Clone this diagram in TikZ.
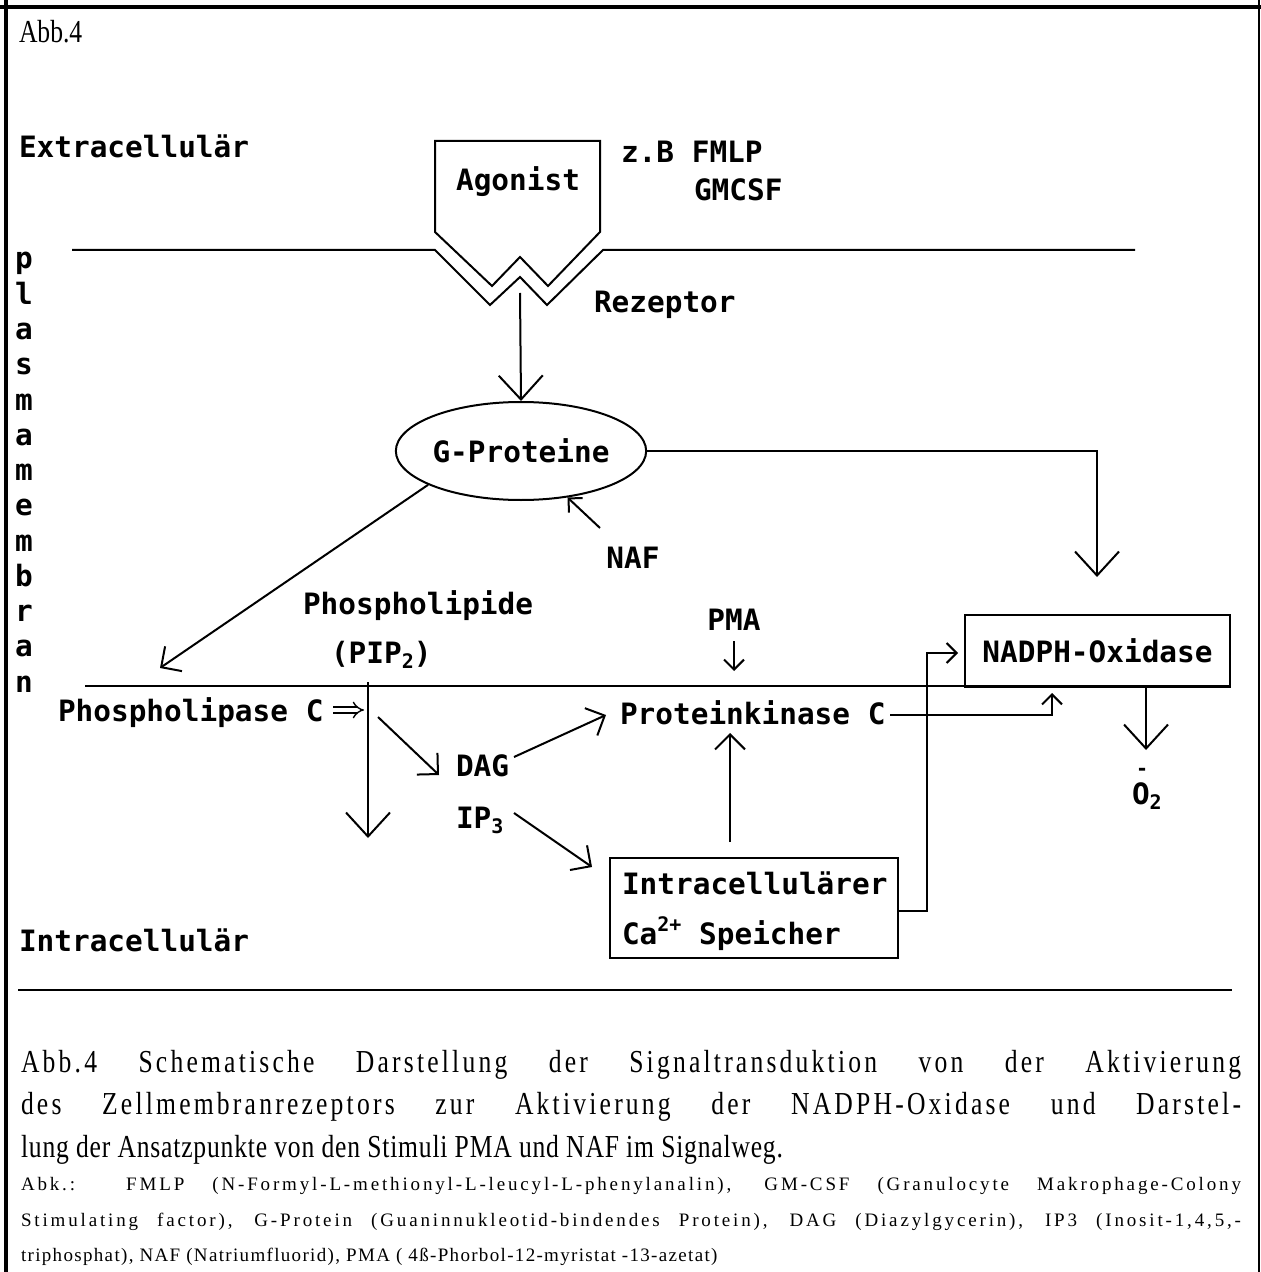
\documentclass[tikz,border=0pt]{standalone}
\usepackage{fontspec}
\setmainfont{Liberation Serif}
\newfontfamily\dfont{DejaVu Sans Mono}
\newfontfamily\capfont[FakeStretch=0.8,LetterSpace=2.5]{Liberation Serif}
\newfontfamily\capfontj[FakeStretch=0.8,LetterSpace=10]{Liberation Serif}
\newfontfamily\abbfont[FakeStretch=0.8]{Liberation Serif}
\newfontfamily\abkfont[LetterSpace=7]{Liberation Serif}
\newfontfamily\abkfontj[LetterSpace=15]{Liberation Serif}
\usetikzlibrary{arrows.meta,shapes.geometric}
\newcommand{\dsub}[1]{\raisebox{-0.35ex}{\fontsize{10}{10}\selectfont #1}}
\newcommand{\dsup}[1]{\raisebox{0.75ex}{\fontsize{10}{10}\selectfont #1}}
\begin{document}
\begin{tikzpicture}[x=0.5pt,y=-0.5pt,line width=1pt,
  lbl/.style={font=\dfont\bfseries\fontsize{14.7}{17}\selectfont,inner sep=0pt,anchor=base west},
  clbl/.style={font=\dfont\bfseries\fontsize{14.7}{17}\selectfont,inner sep=0pt,anchor=base},
  bigtip/.style={-{Straight Barb[length=12pt,width=22pt]}},
  midtip/.style={-{Straight Barb[length=7.5pt,width=15pt]}},
  smalltip/.style={-{Straight Barb[length=5pt,width=10pt]}},
  capline/.style={font=\capfont\fontsize{16}{18}\selectfont,inner sep=0pt,anchor=base west},
  caplinej/.style={font=\capfontj\fontsize{16}{18}\selectfont,inner sep=0pt,anchor=base west},
  abkline/.style={font=\abkfont\fontsize{9.5}{12}\selectfont,inner sep=0pt,anchor=base west},
  abklinej/.style={font=\abkfontj\fontsize{9.5}{12}\selectfont,inner sep=0pt,anchor=base west},
  boxed/.style={draw,inner sep=0pt}]
\useasboundingbox (0,0) rectangle (1261,1272);
% frame
\draw[line width=1.75pt] (0,7) -- (1261,7);
\draw[line width=1.75pt] (6,0) -- (6,1272);
\draw[line width=1pt] (1259,0) -- (1259,1272);
\node[font=\abbfont\fontsize{16}{18}\selectfont,inner sep=0pt,anchor=base west] (abb) at (18,43) {Abb.4};
% region labels
\node[lbl] (extra) at (18,158) {Extracellulär};
\node[lbl] (intra) at (18,951) {Intracellulär};
\foreach \c [count=\i from 0] in {p,l,a,s,m,a,m,e,m,b,r,a,n}
  \node[clbl] (pm\i) at (24,269+35.25*\i) {\c};
% membranes
\draw (72,250) -- (435,250) -- (490,305) -- (520,277) -- (547,305) -- (603,250) -- (1135,250);
\draw (85,686) -- (1229,686);
% agonist
\draw (435,232) -- (435,141) -- (600,141) -- (600,232) -- (548,286) -- (520,257) -- (492,286) -- cycle;
\node[clbl] (agon) at (518,191) {Agonist};
\node[lbl] (zb) at (620,163) {z.B FMLP};
\node[lbl] (gmcsf) at (693,201) {GMCSF};
\node[lbl] (rez) at (593,313) {Rezeptor};
\coordinate (rezs) at (520,293);
% G-Proteine
\node[draw,ellipse,minimum width=106pt,minimum height=49pt,inner sep=0pt,
  font=\dfont\bfseries\fontsize{14.7}{17}\selectfont] (gp) at (521,451) {G-Proteine};
\draw[bigtip] (rezs) -- (gp.north);
\node[clbl] (naf) at (633,568) {NAF};
\coordinate (nafs) at (600,528);
\draw[smalltip] (nafs) -- (gp.-45);
\coordinate (gpr) at (1097,451);
% NADPH box
\node[boxed,minimum width=132.5pt,minimum height=36pt,anchor=north west,
  font=\dfont\bfseries\fontsize{14.7}{17}\selectfont] (nadph) at (964,614) {NADPH-Oxidase};
\coordinate (nadin) at (1097,577);
\draw[bigtip] (gp.east) -- (gpr) -- (nadin);
% Phospholipase
\coordinate (plctip) at (160,668);
\draw[midtip] (gp.200) -- (plctip);
\node[lbl] (pl) at (302,614) {Phospholipide};
\node[lbl] (pip) at (330,663) {(PIP\dsub{2})};
\node[lbl] (plc) at (57,721) {Phospholipase C};
\coordinate (piptop) at (368,682);
\coordinate (pipbot) at (368,838);
\draw[bigtip] (piptop) -- (pipbot);
\coordinate (dblend) at (364,710);
\draw[double,line width=0.7pt,double distance=2.2pt,-{Implies}] (333,710) -- (dblend);
\node[lbl] (dag) at (455,776) {DAG};
\node[lbl] (ip) at (455,828) {IP\dsub{3}};
\coordinate (dags) at (378,717);
\coordinate (dagt) at (439,775);
\draw[midtip] (dags) -- (dagt);
% PKC
\node[lbl] (pkc) at (619,724) {Proteinkinase C};
\draw[midtip] (514,757) -- (606,715);
\node[clbl] (pma) at (734,630) {PMA};
\draw[smalltip] (pma.south) ++(0,10) -- (734,671);
% Ca box
\node[boxed,minimum width=144pt,minimum height=50pt,anchor=north west] (ca) at (609,857) {};
\node[lbl] (ca1) at (621,894) {Intracellulärer};
\node[lbl] (ca2) at (621,944) {Ca\dsup{2+} Speicher};
\draw[midtip] (514,813) -- (592,867);
\draw[midtip] (730,842) -- (730,733);
\draw[smalltip] (890,715) -- (1052,715) -- (1052,693);
\draw[smalltip] (ca.east |- 0,911) -- (927,911) -- (927,653) -- (958,653);
% O2
\draw[bigtip] (1146,686) -- (1146,750);
\node[lbl] (o2) at (1131,804) {O\dsub{2}};
\node[clbl] (o2m) at (1142,775) {\fontsize{10}{10}\selectfont -};
% separator
\draw (18,990) -- (1232,990);
% caption
\node[caplinej] (c1) at (20,1072) {\makebox[610pt][s]{Abb.4 Schematische Darstellung der Signaltransduktion von der Aktivierung}};
\node[caplinej] (c2) at (20,1114) {\makebox[610pt][s]{des Zellmembranrezeptors zur Aktivierung der NADPH-Oxidase und Darstel-}};
\node[capline] (c3) at (20,1157) {lung der Ansatzpunkte von den Stimuli PMA und NAF im Signalweg.};
\node[abklinej] (a1) at (20,1190) {\makebox[610pt][s]{Abk.: FMLP (N-Formyl-L-methionyl-L-leucyl-L-phenylanalin), GM-CSF (Granulocyte Makrophage-Colony}};
\node[abklinej] (a2) at (20,1226) {\makebox[610pt][s]{Stimulating factor), G-Protein (Guaninnukleotid-bindendes Protein), DAG (Diazylgycerin), IP3 (Inosit-1,4,5,-}};
\node[abkline] (a3) at (20,1261) {triphosphat), NAF (Natriumfluorid), PMA ( 4ß-Phorbol-12-myristat -13-azetat)};
\end{tikzpicture}
\end{document}
